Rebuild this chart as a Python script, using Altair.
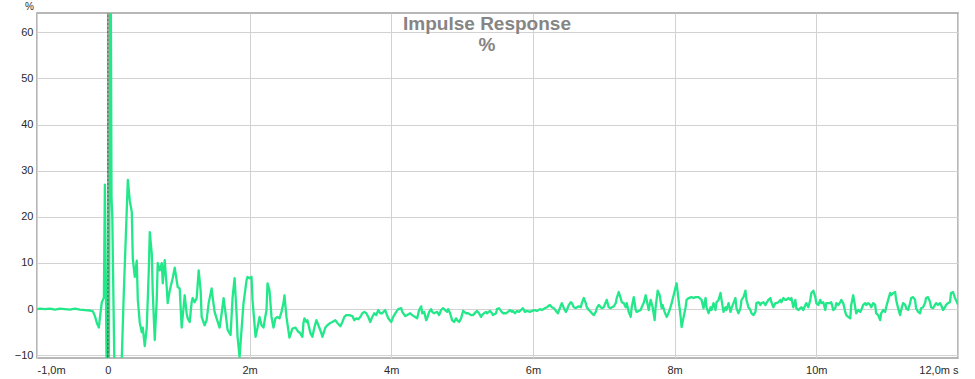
import altair as alt
import pandas as pd

# ---- data ----
time_ms = [
    -1.000, -0.958, -0.887, -0.817, -0.746, -0.676, -0.606, -0.535, -0.465, -0.394,
    -0.324, -0.254, -0.211, -0.183, -0.155, -0.127, -0.113, -0.085, -0.070, -0.056,
    -0.042, -0.028, -0.014, 0.014, 0.035, 0.052, 0.063, 0.099, 0.141, 0.190,
    0.225, 0.282, 0.310, 0.338, 0.352, 0.380, 0.408, 0.423, 0.451, 0.479,
    0.493, 0.521, 0.549, 0.577, 0.592, 0.620, 0.634, 0.662, 0.690, 0.704,
    0.732, 0.761, 0.775, 0.803, 0.831, 0.845, 0.873, 0.915, 0.944, 0.986,
    1.014, 1.042, 1.056, 1.085, 1.113, 1.127, 1.155, 1.183, 1.197, 1.225,
    1.254, 1.282, 1.310, 1.324, 1.366, 1.394, 1.423, 1.465, 1.479, 1.507,
    1.535, 1.577, 1.606, 1.634, 1.662, 1.690, 1.732, 1.761, 1.789, 1.817,
    1.831, 1.859, 1.887, 1.915, 1.958, 1.972, 2.000, 2.028, 2.042, 2.085,
    2.113, 2.141, 2.169, 2.197, 2.239, 2.254, 2.282, 2.310, 2.338, 2.366,
    2.394, 2.423, 2.451, 2.479, 2.493, 2.521, 2.563, 2.606, 2.648, 2.690,
    2.704, 2.746, 2.761, 2.775, 2.803, 2.817, 2.859, 2.887, 2.915, 2.944,
    2.972, 3.014, 3.028, 3.070, 3.099, 3.141, 3.169, 3.211, 3.239, 3.282,
    3.310, 3.338, 3.366, 3.408, 3.451, 3.479, 3.507, 3.535, 3.563, 3.592,
    3.620, 3.648, 3.676, 3.704, 3.732, 3.761, 3.789, 3.817, 3.845, 3.873,
    3.915, 3.930, 3.958, 4.000, 4.028, 4.070, 4.099, 4.141, 4.155, 4.197,
    4.225, 4.268, 4.296, 4.338, 4.366, 4.394, 4.423, 4.437, 4.465, 4.493,
    4.507, 4.535, 4.563, 4.577, 4.606, 4.648, 4.676, 4.704, 4.732, 4.761,
    4.789, 4.803, 4.831, 4.859, 4.887, 4.915, 4.930, 4.958, 4.986, 5.014,
    5.056, 5.085, 5.127, 5.155, 5.197, 5.211, 5.239, 5.268, 5.282, 5.310,
    5.338, 5.352, 5.394, 5.423, 5.437, 5.479, 5.493, 5.521, 5.549, 5.577,
    5.620, 5.648, 5.676, 5.704, 5.718, 5.746, 5.775, 5.803, 5.831, 5.859,
    5.887, 5.915, 5.958, 5.986, 6.028, 6.056, 6.099, 6.127, 6.169, 6.197,
    6.239, 6.268, 6.296, 6.324, 6.352, 6.380, 6.408, 6.437, 6.465, 6.479,
    6.507, 6.535, 6.549, 6.577, 6.606, 6.620, 6.648, 6.676, 6.690, 6.718,
    6.746, 6.761, 6.789, 6.817, 6.831, 6.859, 6.887, 6.901, 6.930, 6.958,
    6.972, 7.000, 7.028, 7.042, 7.070, 7.099, 7.113, 7.141, 7.169, 7.183,
    7.211, 7.239, 7.254, 7.282, 7.310, 7.324, 7.352, 7.380, 7.394, 7.423,
    7.451, 7.465, 7.493, 7.521, 7.535, 7.563, 7.592, 7.606, 7.634, 7.662,
    7.690, 7.718, 7.732, 7.761, 7.789, 7.817, 7.831, 7.859, 7.887, 7.901,
    7.930, 7.958, 7.986, 8.014, 8.028, 8.056, 8.085, 8.099, 8.127, 8.155,
    8.169, 8.197, 8.239, 8.268, 8.296, 8.338, 8.380, 8.408, 8.437, 8.451,
    8.479, 8.507, 8.521, 8.549, 8.577, 8.592, 8.620, 8.648, 8.662, 8.690,
    8.718, 8.732, 8.761, 8.789, 8.803, 8.831, 8.859, 8.873, 8.901, 8.930,
    8.944, 8.972, 9.000, 9.014, 9.042, 9.070, 9.085, 9.113, 9.141, 9.155,
    9.183, 9.211, 9.225, 9.254, 9.282, 9.296, 9.324, 9.352, 9.366, 9.394,
    9.423, 9.437, 9.465, 9.493, 9.507, 9.535, 9.563, 9.577, 9.606, 9.634,
    9.648, 9.676, 9.704, 9.718, 9.746, 9.775, 9.789, 9.817, 9.845, 9.859,
    9.887, 9.915, 9.930, 9.958, 9.986, 10.000, 10.028, 10.056, 10.070, 10.099,
    10.127, 10.141, 10.169, 10.197, 10.211, 10.239, 10.268, 10.282, 10.310, 10.338,
    10.352, 10.380, 10.408, 10.423, 10.451, 10.479, 10.493, 10.521, 10.549, 10.563,
    10.592, 10.620, 10.634, 10.662, 10.690, 10.704, 10.732, 10.761, 10.775, 10.803,
    10.831, 10.845, 10.873, 10.901, 10.915, 10.944, 10.972, 10.986, 11.014, 11.042,
    11.056, 11.085, 11.113, 11.127, 11.155, 11.183, 11.197, 11.225, 11.254, 11.268,
    11.296, 11.324, 11.338, 11.366, 11.394, 11.408, 11.437, 11.465, 11.479, 11.507,
    11.535, 11.549, 11.577, 11.606, 11.620, 11.648, 11.676, 11.690, 11.718, 11.746,
    11.761, 11.789, 11.817, 11.831, 11.859, 11.887, 11.901, 11.930, 11.958, 12.000,
]

level_pct = [
    0.0, 0.1, 0.0, 0.1, -0.1, 0.1, 0.0, -0.1, 0.1, -0.1,
    -0.2, -0.3, -0.5, -1.5, -3.0, -4.0, -2.0, 1.5, 2.0, 2.5,
    27.0, 5.0, -20.0, -18.0, 100.0, 24.0, 20.0, -20.0, -25.0, -14.0,
    3.5, 28.0, 23.5, 21.0, 11.0, 7.0, 10.5, 2.0, -3.0, -5.0,
    -4.0, -8.0, -4.0, 8.0, 16.7, 12.0, 3.5, -6.7, 2.0, 10.0,
    8.4, 10.0, 5.6, 10.6, 4.8, 1.3, 4.0, 6.7, 9.0, 4.8,
    4.5, -4.0, -1.7, 3.0, -1.0, -2.0, -2.8, 1.5, 2.4, 1.5,
    2.4, 8.4, 4.0, -1.7, -3.5, -2.4, 1.3, 4.5, 2.6, -0.6,
    -2.0, -4.0, -1.0, 2.4, -1.0, -4.5, -5.6, 2.6, 6.7, -1.0,
    -6.0, -10.4, -4.5, 1.3, 6.3, 7.0, 6.7, 7.0, 2.0, -6.0,
    -4.0, -1.7, -3.5, -4.0, -0.2, 5.6, 4.0, -1.7, -4.0, -2.0,
    -1.7, -2.0, -0.6, 1.3, 3.0, -1.7, -6.2, -4.2, -4.0, -5.0,
    -5.0, -6.0, -3.0, -2.0, -2.8, -2.4, -5.2, -6.0, -4.0, -2.4,
    -3.5, -5.2, -6.0, -4.0, -3.5, -3.0, -2.8, -2.4, -3.0, -3.7,
    -2.8, -1.7, -1.3, -1.3, -1.5, -2.4, -2.0, -2.2, -1.7, -0.9,
    -0.6, -0.9, -1.7, -2.8, -1.7, -0.9, -1.3, -0.2, -0.9, -0.9,
    -0.2, -0.9, -2.0, -2.8, -1.7, -0.6, 0.0, 0.2, -0.6, -1.5,
    -1.3, -0.9, -1.3, -1.7, -2.0, -0.2, 0.6, -0.9, -0.6, -2.4,
    -2.0, -0.6, 0.0, -0.6, -0.9, -0.6, -1.3, -0.2, 0.2, -0.2,
    -0.6, 0.0, -0.9, -2.4, -2.8, -2.0, -2.4, -2.8, -2.0, -0.4,
    -0.9, -0.9, -1.3, -1.3, -0.6, -0.4, -0.9, -1.7, -1.3, -0.9,
    -0.6, -0.9, -0.4, -0.9, -1.3, -0.9, 0.0, 0.2, -0.4, -0.9,
    -0.9, -0.6, -0.2, -0.6, -0.4, -0.9, -0.4, -0.6, -0.2, 0.2,
    -0.6, -0.4, -0.6, -0.4, -0.2, -0.4, 0.0, -0.2, 0.2, 0.4,
    0.9, 0.4, 0.2, -0.4, -0.9, 0.2, 1.3, 0.2, -0.6, -0.2,
    0.9, 1.5, 1.3, 0.4, 0.2, 0.4, 0.6, 0.4, 1.3, 2.4,
    1.3, 0.4, -0.2, -0.6, -0.9, -1.3, -0.6, 0.2, 0.9, 0.4,
    0.2, 0.4, 1.5, 2.0, 0.4, 0.2, 0.4, 0.6, 1.3, 2.4,
    3.7, 2.4, 1.5, 1.3, 0.4, 1.3, -0.6, -1.7, 0.4, 2.6,
    -0.2, -0.6, -0.4, -0.2, 0.4, 1.3, 3.0, 2.0, -0.2, 2.0,
    0.4, -2.4, 0.4, 4.0, 3.0, 0.2, 0.9, -0.6, -1.7, -1.3,
    -0.2, 1.3, 3.0, 4.8, 5.6, 2.0, -1.7, -3.9, -1.7, 0.4,
    2.0, 2.4, 2.6, 2.4, 2.6, 2.6, 2.0, 0.2, 2.4, 0.4,
    -0.9, 0.4, -0.2, 1.3, -0.2, 1.5, 2.0, 3.5, 2.0, -0.6,
    0.4, -0.2, 1.3, -0.6, 0.2, 1.3, 2.4, 0.2, -0.9, 0.2,
    2.0, 2.6, 4.0, 2.0, 0.4, -0.2, -0.9, -1.3, -0.6, 1.3,
    1.5, 0.9, 1.3, 1.5, 0.9, 1.3, 2.0, 2.4, 1.5, 0.4,
    1.3, 1.3, 1.5, 2.0, 1.5, 2.4, 2.0, 2.0, 2.4, 2.0,
    2.4, 0.4, 2.0, 0.2, -0.2, 0.2, 0.4, -0.2, 0.9, 1.3,
    0.4, 2.0, 3.5, 4.0, 2.6, 1.3, 0.9, 2.0, 1.3, 1.5,
    -0.2, 1.3, 1.3, 1.3, 1.5, -0.2, 0.2, 1.3, 0.9, 1.5,
    2.0, 1.3, -0.6, -1.3, -1.7, -2.0, 0.9, 3.0, 0.4, -0.9,
    -0.2, -0.6, -0.2, 0.9, 1.3, 0.9, 1.3, 0.9, 0.4, 1.3,
    0.9, -0.9, -1.3, -2.4, -0.9, -0.2, -0.6, 0.4, 2.0, 3.5,
    3.0, 3.5, 3.7, 2.0, 0.2, -1.3, -0.2, 1.3, 0.9, 0.2,
    -0.2, 1.3, 2.4, 2.6, 2.0, 0.2, -0.6, -0.9, 0.2, 0.4,
    1.3, 2.4, 2.6, 1.5, 0.4, 0.2, 0.9, 1.3, 0.9, 1.3,
    0.9, -0.2, 0.4, 0.9, 1.3, 1.5, 3.5, 3.7, 2.4, 1.0,
]

x_ticks = [-1, 0, 2, 4, 6, 8, 10, 12]
x_tick_labels = ["-1,0m", "0", "2m", "4m", "6m", "8m", "10m", "12,0m s"]
y_ticks = [-10, 0, 10, 20, 30, 40, 50, 60]
cursor_ms = [0]
title_text = "Impulse Response\n%"
y_unit = "%"

assert len(time_ms) == len(level_pct), (len(time_ms), len(level_pct))

df = pd.DataFrame({"t": time_ms, "v": level_pct})
cursor_df = pd.DataFrame({"t": cursor_ms})

label_expr = " : ".join(
    f"datum.value == {v} ? '{l}'" for v, l in zip(x_ticks, x_tick_labels)
) + " : ''"

x_scale = alt.Scale(domain=[-1, 12], nice=False, zero=False)
y_scale = alt.Scale(domain=[-10.6, 64.2], nice=False, zero=False)

FONT = "Liberation Sans"
GRID = "#d2d2d2"
LABEL = "#2a2a2a"

x_axis = alt.Axis(
    values=x_ticks, labelExpr=label_expr, grid=True, gridColor=GRID,
    ticks=False, domain=False, title=None, labelPadding=6,
    labelFontSize=11, labelColor=LABEL, labelFont=FONT, labelBaseline="top",
)
y_axis = alt.Axis(
    values=y_ticks, grid=True, gridColor=GRID, ticks=False, domain=False,
    labelPadding=4, labelFontSize=11, labelColor=LABEL, labelFont=FONT,
    title=y_unit, titleAngle=0, titleX=-8, titleY=-7, titleAlign="center",
    titleBaseline="middle", titleFontSize=10, titleFontWeight="normal",
    titleColor=LABEL, titleFont=FONT,
)

line = alt.Chart(df).mark_line(
    color="#22e88a", strokeWidth=2.3, clip=True, strokeJoin="round"
).encode(
    x=alt.X("t:Q", scale=x_scale, axis=x_axis),
    y=alt.Y("v:Q", scale=y_scale, axis=y_axis),
)

cursor_red = alt.Chart(cursor_df).mark_rule(
    color="#d04848", strokeWidth=1, strokeDash=[2, 2]
).encode(x=alt.X("t:Q", scale=x_scale))
cursor_black = alt.Chart(cursor_df).mark_rule(
    color="#333333", strokeWidth=1, strokeDash=[2, 2], strokeDashOffset=2
).encode(x=alt.X("t:Q", scale=x_scale))

title = alt.Chart(cursor_df).mark_text(
    font=FONT, fontSize=19, fontWeight="bold", color="#858585",
    align="center", baseline="alphabetic", lineBreak="\n", lineHeight=21,
).encode(x=alt.value(450), y=alt.value(17), text=alt.value(title_text))

chart = alt.layer(line, cursor_red, cursor_black, title).properties(
    width=921, height=345,
    autosize=alt.AutoSizeParams(type="none"),
    padding={"left": 37, "top": 13, "right": 17, "bottom": 21},
    background="white",
).configure_view(stroke="#a0a0a0", strokeWidth=1.5)

chart.save("out.html", embed_options={"renderer": "svg", "actions": False})
